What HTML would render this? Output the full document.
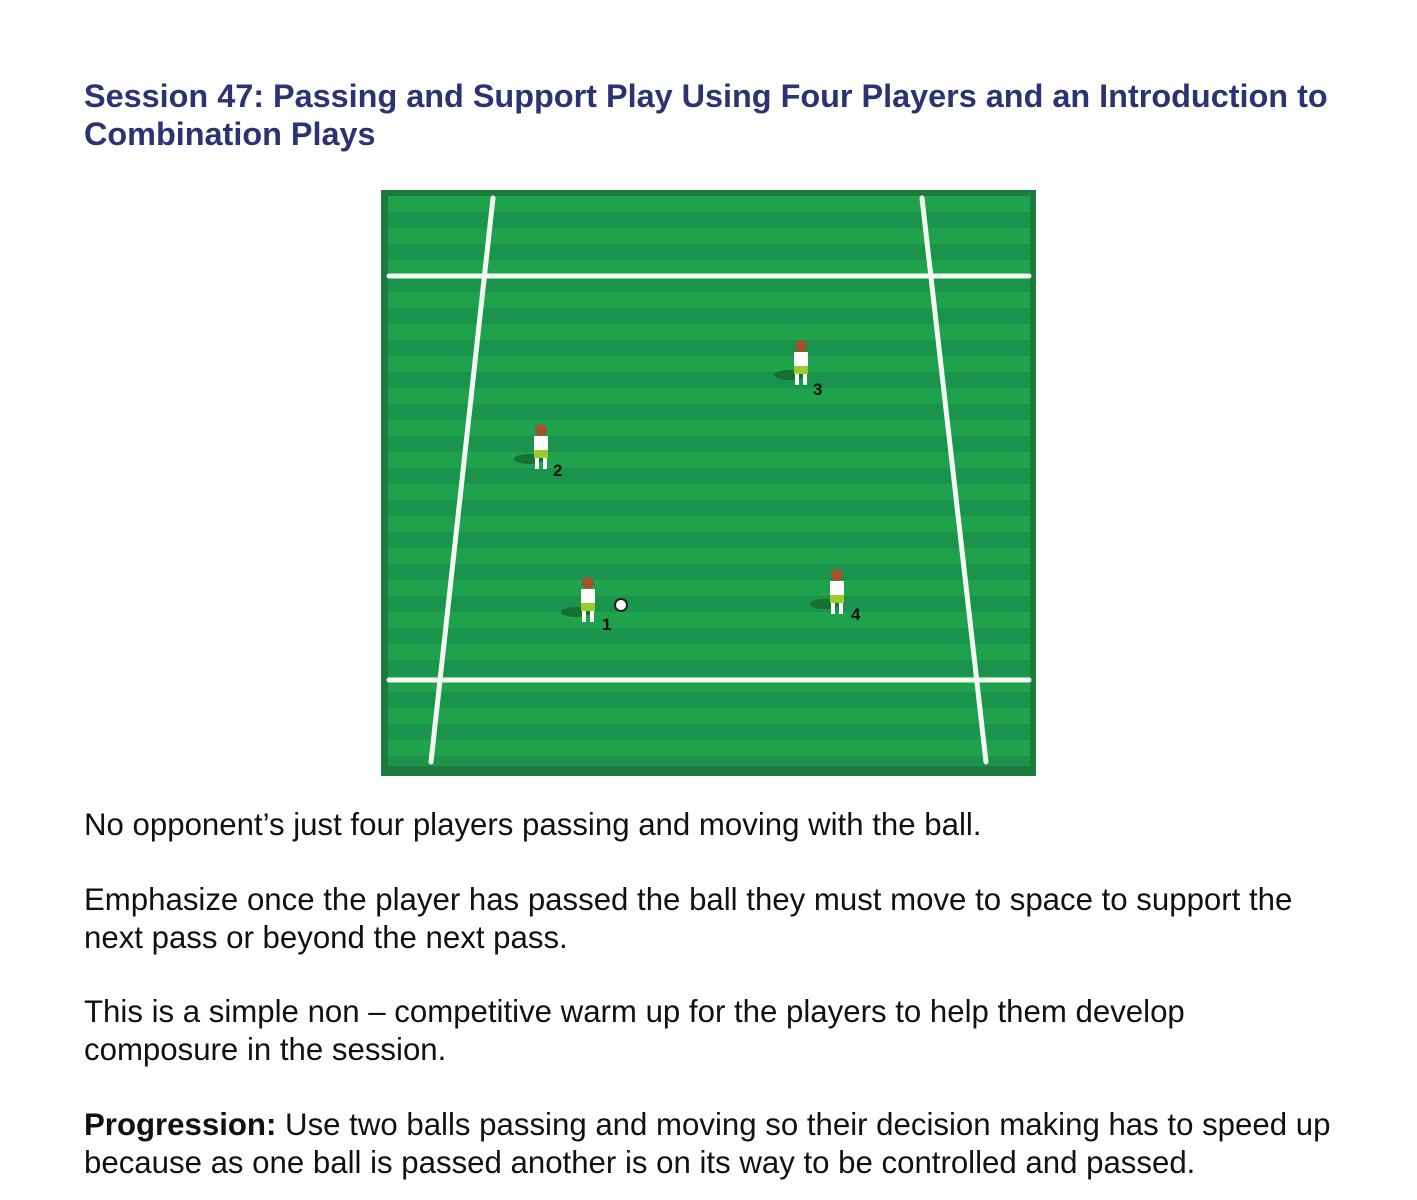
<!DOCTYPE html>
<html><head><meta charset="utf-8"><style>
body{margin:0;background:#fff;width:1417px;height:1200px;position:relative;font-family:"Liberation Sans",Arial,sans-serif;overflow:hidden}
.t{position:absolute;left:84px;top:77px;font-weight:bold;font-size:32.4px;line-height:38px;color:#2d3272;width:1340px;white-space:nowrap}
.p{position:absolute;left:84px;font-size:31.2px;line-height:38px;color:#111;width:1340px;white-space:nowrap}
</style></head><body>
<div class="t">Session 47: Passing and Support Play Using Four Players and an Introduction to<br>Combination Plays</div>
<svg style="position:absolute;left:381px;top:190px" width="655" height="586" viewBox="0 0 655 586">
<defs><pattern id="s" width="10" height="32" patternUnits="userSpaceOnUse" y="6"><rect width="10" height="16" fill="#1ea24b"/><rect y="16" width="10" height="16" fill="#19944a"/></pattern>
<g id="pl"><ellipse cx="-12" cy="22" rx="15" ry="5" fill="#16702f"/><circle cx="0" cy="-7" r="6" fill="#a0522d"/><rect x="-7" y="-1" width="14" height="14" fill="#fff"/><rect x="-7" y="13" width="14" height="8" fill="#9c3"/><rect x="-6" y="21" width="4" height="11" fill="#fff"/><rect x="2" y="21" width="4" height="11" fill="#fff"/></g></defs>
<rect width="655" height="586" fill="#1e7a3e"/>
<rect x="7" y="6" width="642" height="570" fill="url(#s)"/>
<g stroke="#f4f8f2" stroke-width="5" stroke-linecap="round">
<line x1="8" y1="86" x2="648" y2="86"/>
<line x1="8" y1="490" x2="648" y2="490"/>
<line x1="112" y1="8" x2="50" y2="572"/>
<line x1="541" y1="8" x2="605" y2="572"/>
</g>
<g font-family="Liberation Sans" font-weight="bold" font-size="17" fill="#111">
<g transform="translate(207,400)"><use href="#pl"/><circle cx="33" cy="15" r="6" fill="#fff" stroke="#222" stroke-width="2"/><text x="14" y="40">1</text></g>
<g transform="translate(160,247)"><use href="#pl"/><text x="12" y="39">2</text></g>
<g transform="translate(420,163)"><use href="#pl"/><text x="12" y="42">3</text></g>
<g transform="translate(456,392)"><use href="#pl"/><text x="14" y="38">4</text></g>
</g>
</svg>
<div class="p" style="top:806px">No opponent’s just four players passing and moving with the ball.</div>
<div class="p" style="top:881px">Emphasize once the player has passed the ball they must move to space to support the<br>next pass or beyond the next pass.</div>
<div class="p" style="top:993px">This is a simple non – competitive warm up for the players to help them develop<br>composure in the session.</div>
<div class="p" style="top:1106px"><b>Progression:</b> Use two balls passing and moving so their decision making has to speed up<br>because as one ball is passed another is on its way to be controlled and passed.</div>
</body></html>
